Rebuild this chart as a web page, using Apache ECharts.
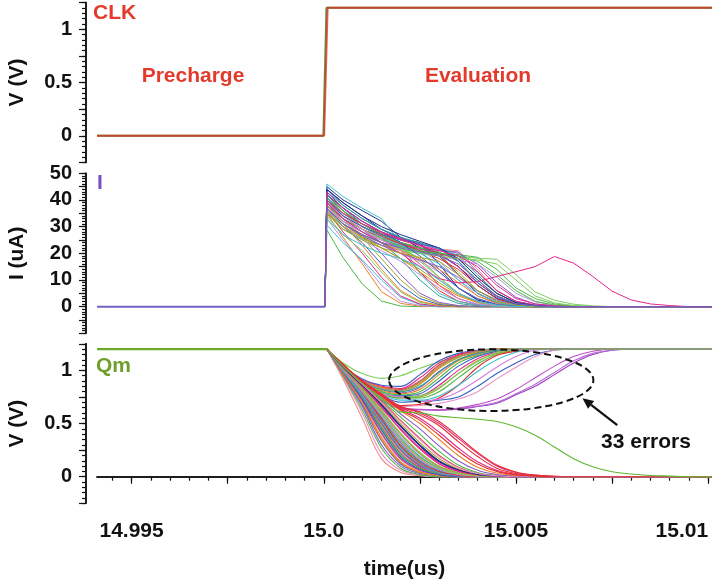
<!DOCTYPE html>
<html>
<head>
<meta charset="utf-8">
<script src="https://cdn.jsdelivr.net/npm/echarts@6/dist/echarts.min.js"></script>
<style>
  html, body { margin: 0; padding: 0; background: #ffffff; }
  #chart { width: 712px; height: 585px; }
</style>
</head>
<body>
<div id="chart"></div>
<script>
// ---------- axis ranges and tick labels ----------
const timeRange = [14.9941, 15.0101];          // us
const timeTickLabels = ['14.995', '15.0', '15.005', '15.01'];
const voltRange = [-0.25, 1.25];                // V
const voltTickLabels = ['0', '0.5', '1'];
const currRange = [-10, 50];                    // uA
const currTickLabels = ['0', '10', '20', '30', '40', '50'];

// ---------- CLK (two overlapping traces) ----------
const clkTimeA = [14.9941, 14.99999, 15.00007, 15.0101];
const clkTimeB = [14.9941, 15.00001, 15.0001, 15.0101];
const clkVolt = [0, 0, 1.2, 1.2];

// ---------- evaluation current, uA ----------
const iRise = 15.00003;   // foot of the current edge
const iTime = [15.00008, 15.0005, 15.001, 15.0015, 15.002, 15.0025, 15.003, 15.0035,
               15.004, 15.0045, 15.005, 15.0055, 15.006, 15.0065, 15.007, 15.0075,
               15.008, 15.0085, 15.009, 15.0095];
const iCurves = [
  [28.8, 18.4, 8.5, 2.1, 0.2, 0],
  [35, 26, 16, 5.6, 1.2, 0.2, 0],
  [33, 25, 17, 8, 2, 0.4, 0],
  [30.6, 24, 17.5, 10, 3.5, 0.8, 0],
  [36, 28, 20, 11, 4, 1, 0.2, 0],
  [34, 27, 21, 13, 5.5, 1.6, 0.4, 0],
  [38, 31, 23, 14, 6, 2, 0.5, 0],
  [37, 30, 24, 16, 8, 3, 0.8, 0.2, 0],
  [40, 33, 26, 18, 10, 4, 1.2, 0.3, 0],
  [39, 32, 27, 20, 12, 5, 1.6, 0.4, 0],
  [41, 34, 29, 24, 18, 10, 4, 1.2, 0.3, 0],
  [42, 36, 30, 26, 21, 13, 6, 2, 0.5, 0],
  [40, 34, 29, 25, 22, 16, 8, 3, 0.8, 0.2, 0],
  [38, 32, 28, 24, 22, 18, 11, 5, 1.5, 0.4, 0],
  [43, 37, 31, 27, 24, 21, 14, 7, 2.5, 0.7, 0],
  [39, 33, 28, 25, 23, 21, 17, 10, 4, 1.2, 0.3, 0],
  [41, 35, 30, 26, 24, 22, 19, 13, 6, 2, 0.5, 0],
  [37, 31, 27, 24, 22.5, 21, 19.5, 15, 8, 3, 0.8, 0.2, 0],
  [40, 34, 29, 26, 24, 22.5, 21.5, 21, 14, 6, 2, 0.5, 0],
  [36, 30, 26, 23, 21, 20, 19.5, 19, 18.1, 17.8, 12, 5.5, 2.4, 0.9, 0.3, 0],
  [39, 33, 28, 25, 23, 22, 21, 20.5, 13, 6, 2, 0.6, 0],
  [35, 29, 25.5, 23, 21.5, 20.5, 20, 19.5, 18.5, 14, 7, 3, 1, 0.3, 0],
  [45, 40, 36, 32, 26, 22, 20, 15, 8, 3, 0.8, 0],
  [46, 41.3, 36.9, 33, 23.8, 12.5, 5, 1.9, 0.6, 0],
  [44, 39, 34, 29, 25.5, 24, 16, 7, 2.5, 0.7, 0],
  [41, 35, 31, 27.5, 25, 23, 20, 12, 5, 1.5, 0.4, 0],
  [38, 32, 27, 23, 20, 17, 13, 7, 3, 1, 0.2, 0],
  [37, 31, 26, 22, 18, 13, 8, 4, 1.5, 0.4, 0],
  [42, 36, 31, 27, 24, 22, 20, 18, 11, 5, 1.5, 0.4, 0],
  [36, 30, 25, 21, 17, 12, 7, 3, 1, 0.3, 0],
  [41, 36, 31, 27, 24, 22, 20.5, 17, 10, 4, 1.2, 0.3, 0],
  [44, 38, 33, 29, 26, 23, 19, 12, 5, 1.5, 0.4, 0],
  [38, 33, 29, 26, 23.5, 21.5, 20, 18, 13, 6, 2, 0.5, 0],
  [36, 31, 27, 24, 21, 18, 14, 9, 4, 1.3, 0.3, 0],
  [42, 37, 32, 28, 25.5, 23.5, 21.5, 20, 16, 9, 3.5, 1, 0.3, 0],
  [40, 35, 30, 26, 22, 17, 11, 5, 1.8, 0.5, 0],
  [39, 34, 30, 26.5, 23.5, 21, 18, 14, 8, 3, 0.8, 0.2, 0],
  [43, 38, 33, 29, 26, 24, 22, 19, 12, 5, 1.5, 0.4, 0],
  [37, 32, 28, 25, 22.5, 20.5, 19, 17.5, 16, 11, 5, 1.8, 0.5, 0],
  [35, 30, 26, 22, 18, 14, 9, 4.5, 1.8, 0.5, 0],
  [41, 35, 30, 26, 23, 20, 16, 10, 5, 1.6, 0.4, 0],
  [40, 35, 31, 28, 25.5, 23, 20, 15, 9, 4, 1.2, 0.3, 0],
  [38, 33, 29, 25.5, 22.5, 21, 20, 19, 17, 12, 6, 2, 0.6, 0],
  [44, 39, 34, 30, 27, 24.5, 22, 18, 11, 5, 1.5, 0.4, 0],
  [36, 31, 27, 24, 21.5, 20, 19, 18, 17.5, 16, 10, 4, 1.4, 0.4, 0],
  [39, 34, 29, 25, 21, 16, 10, 5, 2, 0.5, 0],
  [42, 37, 32, 28, 24, 19, 13, 7, 3, 0.8, 0.2, 0],
  [37, 31, 26.5, 23, 20, 17.5, 15, 11, 6, 2.5, 0.7, 0],
  [39, 33, 28, 24, 20, 15, 10.5, 8.9, 9.4, 11.3, 13.1, 15, 18.8, 16.3, 11.3, 5.8, 2.5, 1, 0.4, 0],
  [33, 27, 23, 20, 18, 15, 10, 5, 2, 0.6, 0],
  [35, 29, 25, 22, 20, 18.5, 17, 12, 6, 2, 0.6, 0],
  [40, 34, 30, 27, 25, 23.5, 22, 17, 9, 3.5, 1, 0.3, 0],
  [43, 37, 32, 28, 25, 23, 21, 19, 15, 8, 3, 1, 0.3, 0],
  [37, 31, 27, 24, 22, 20.5, 19, 16, 10, 4, 1.2, 0.3, 0]
];

// ---------- Qm node voltage, V ----------
const qStart = 1.2;
const qTime = [15.00008, 15.0005, 15.001, 15.0015, 15.002, 15.0025, 15.003, 15.0035,
               15.004, 15.0045, 15.005, 15.0055, 15.006, 15.0065, 15.007, 15.0075,
               15.008, 15.0085, 15.009, 15.0095];
// runs that dip and recover to 1.2 (read errors)
const qErrorCurves = [
  [1.2, 1.07, 0.97, 0.925, 0.95, 1.02, 1.08, 1.13, 1.17, 1.19, 1.2],
  [1.2, 1.04, 0.92, 0.86, 0.85, 0.96, 1.09, 1.16, 1.19, 1.2],
  [1.2, 1.03, 0.91, 0.85, 0.83, 0.93, 1.07, 1.15, 1.18, 1.2],
  [1.2, 1.03, 0.9, 0.84, 0.82, 0.9, 1.05, 1.14, 1.18, 1.2],
  [1.2, 1.03, 0.9, 0.83, 0.8, 0.87, 1.02, 1.12, 1.17, 1.19, 1.2],
  [1.2, 1.02, 0.89, 0.82, 0.79, 0.84, 0.99, 1.1, 1.16, 1.19, 1.2],
  [1.2, 1.02, 0.88, 0.81, 0.78, 0.82, 0.96, 1.09, 1.15, 1.19, 1.2],
  [1.2, 1.02, 0.88, 0.8, 0.77, 0.8, 0.93, 1.07, 1.14, 1.18, 1.2],
  [1.2, 1.02, 0.87, 0.79, 0.76, 0.78, 0.9, 1.04, 1.13, 1.18, 1.2],
  [1.2, 1.01, 0.86, 0.78, 0.75, 0.76, 0.86, 1.0, 1.11, 1.17, 1.2],
  [1.2, 1.01, 0.86, 0.78, 0.74, 0.75, 0.83, 0.97, 1.09, 1.16, 1.19, 1.2],
  [1.2, 1.02, 0.87, 0.79, 0.75, 0.76, 0.84, 0.97, 1.08, 1.17, 1.2],
  [1.2, 1.02, 0.86, 0.78, 0.74, 0.74, 0.8, 0.93, 1.06, 1.15, 1.19, 1.2],
  [1.2, 1.01, 0.85, 0.74, 0.67, 0.68, 0.74, 0.86, 1.03, 1.14, 1.18, 1.2],
  [1.2, 1.01, 0.86, 0.76, 0.7, 0.71, 0.72, 0.75, 0.85, 0.97, 1.07, 1.15, 1.19, 1.2],
  [1.2, 1.02, 0.87, 0.78, 0.75, 0.71, 0.73, 0.8, 0.91, 1.03, 1.13, 1.19, 1.2],
  [1.2, 1.0, 0.84, 0.72, 0.64, 0.63, 0.625, 0.635, 0.66, 0.69, 0.77, 0.85, 0.96, 1.07, 1.15, 1.19, 1.2],
  [1.2, 1.0, 0.84, 0.72, 0.645, 0.635, 0.63, 0.64, 0.665, 0.7, 0.78, 0.87, 0.98, 1.09, 1.16, 1.19, 1.2],
  [1.2, 1.0, 0.84, 0.72, 0.64, 0.63, 0.63, 0.645, 0.68, 0.73, 0.82, 0.93, 1.04, 1.13, 1.18, 1.2],
  [1.2, 1.01, 0.85, 0.74, 0.66, 0.67, 0.69, 0.73, 0.8, 0.92, 1.03, 1.13, 1.19, 1.2],
  [1.2, 1.02, 0.87, 0.77, 0.72, 0.72, 0.76, 0.86, 0.99, 1.1, 1.17, 1.2],
  [1.2, 1.03, 0.9, 0.84, 0.81, 0.88, 1.03, 1.13, 1.17, 1.2],
  [1.2, 1.02, 0.89, 0.82, 0.8, 0.85, 0.98, 1.1, 1.16, 1.19, 1.2],
  [1.2, 1.03, 0.9, 0.83, 0.81, 0.89, 1.04, 1.13, 1.18, 1.2]
];
// runs that discharge to 0 (correct reads)
const qFallCurves = [
  [1.2, 0.92, 0.55, 0.17, 0.04, 0.01, 0],
  [1.2, 0.94, 0.6, 0.22, 0.06, 0.015, 0],
  [1.2, 0.95, 0.63, 0.27, 0.08, 0.02, 0],
  [1.2, 0.96, 0.66, 0.3, 0.1, 0.03, 0.01, 0],
  [1.2, 0.97, 0.68, 0.34, 0.12, 0.04, 0.01, 0],
  [1.2, 0.97, 0.7, 0.37, 0.14, 0.05, 0.015, 0],
  [1.2, 0.98, 0.71, 0.4, 0.16, 0.06, 0.02, 0],
  [1.2, 0.98, 0.72, 0.42, 0.18, 0.07, 0.02, 0],
  [1.2, 0.99, 0.74, 0.45, 0.2, 0.08, 0.025, 0.01, 0],
  [1.2, 0.99, 0.75, 0.47, 0.22, 0.09, 0.03, 0.01, 0],
  [1.2, 1.0, 0.76, 0.49, 0.24, 0.1, 0.035, 0.01, 0],
  [1.2, 1.0, 0.77, 0.51, 0.26, 0.11, 0.04, 0.012, 0],
  [1.2, 1.0, 0.78, 0.53, 0.28, 0.12, 0.045, 0.015, 0],
  [1.2, 1.01, 0.79, 0.55, 0.3, 0.14, 0.05, 0.018, 0],
  [1.2, 1.01, 0.8, 0.56, 0.32, 0.15, 0.06, 0.02, 0.005, 0],
  [1.2, 1.01, 0.81, 0.58, 0.34, 0.17, 0.07, 0.025, 0.008, 0],
  [1.2, 1.02, 0.82, 0.6, 0.36, 0.19, 0.08, 0.03, 0.01, 0],
  [1.2, 1.02, 0.83, 0.61, 0.38, 0.21, 0.09, 0.035, 0.012, 0],
  [1.2, 1.02, 0.84, 0.63, 0.41, 0.23, 0.1, 0.04, 0.015, 0],
  [1.2, 1.03, 0.85, 0.65, 0.44, 0.26, 0.12, 0.05, 0.02, 0.005, 0],
  [1.2, 1.03, 0.86, 0.67, 0.47, 0.29, 0.14, 0.06, 0.02, 0.006, 0],
  [1.2, 1.03, 0.86, 0.69, 0.5, 0.32, 0.17, 0.07, 0.025, 0.008, 0],
  [1.2, 1.04, 0.87, 0.71, 0.53, 0.36, 0.2, 0.09, 0.03, 0.01, 0],
  [1.2, 1.04, 0.88, 0.72, 0.56, 0.4, 0.24, 0.11, 0.04, 0.012, 0],
  [1.2, 1.04, 0.88, 0.74, 0.59, 0.45, 0.29, 0.15, 0.06, 0.02, 0.006, 0],
  [1.2, 1.05, 0.89, 0.75, 0.62, 0.5, 0.35, 0.2, 0.09, 0.035, 0.012, 0],
  [1.2, 1.05, 0.89, 0.76, 0.64, 0.55, 0.42, 0.27, 0.14, 0.06, 0.02, 0.007, 0],
  [1.2, 1.05, 0.9, 0.77, 0.65, 0.58, 0.48, 0.33, 0.19, 0.08, 0.03, 0.01, 0],
  [1.2, 1.05, 0.9, 0.77, 0.66, 0.6, 0.5, 0.36, 0.22, 0.1, 0.04, 0.015, 0.005, 0],
  [1.2, 1.06, 0.9, 0.78, 0.66, 0.61, 0.52, 0.38, 0.23, 0.11, 0.045, 0.015, 0.005, 0],
  [1.2, 0.97, 0.69, 0.35, 0.13, 0.04, 0.01, 0],
  [1.2, 0.98, 0.72, 0.41, 0.17, 0.06, 0.02, 0],
  [1.2, 0.99, 0.73, 0.44, 0.19, 0.07, 0.02, 0],
  [1.2, 0.99, 0.75, 0.46, 0.21, 0.08, 0.03, 0.01, 0],
  [1.2, 1.0, 0.76, 0.5, 0.25, 0.1, 0.035, 0.01, 0],
  [1.2, 1.0, 0.77, 0.52, 0.27, 0.12, 0.04, 0.012, 0],
  [1.2, 1.01, 0.79, 0.54, 0.29, 0.13, 0.05, 0.015, 0],
  [1.2, 1.01, 0.8, 0.57, 0.33, 0.16, 0.065, 0.022, 0.006, 0],
  [1.2, 1.02, 0.82, 0.59, 0.35, 0.18, 0.075, 0.028, 0.009, 0],
  [1.2, 1.02, 0.83, 0.62, 0.4, 0.22, 0.095, 0.037, 0.013, 0],
  [1.2, 1.03, 0.85, 0.66, 0.45, 0.27, 0.13, 0.055, 0.02, 0.005, 0],
  [1.2, 1.03, 0.86, 0.68, 0.48, 0.3, 0.15, 0.065, 0.022, 0.007, 0],
  [1.2, 1.04, 0.87, 0.7, 0.52, 0.35, 0.19, 0.085, 0.03, 0.01, 0],
  [1.2, 1.05, 0.89, 0.76, 0.63, 0.53, 0.39, 0.24, 0.12, 0.05, 0.018, 0.006, 0],
  [1.2, 1.04, 0.88, 0.74, 0.61, 0.6, 0.57, 0.555, 0.54, 0.52, 0.47, 0.39, 0.28, 0.17, 0.094, 0.047, 0.025, 0.012, 0.006, 0]
];

// ---------- annotation anchors (data space of the Qm panel) ----------
const errorZone = { t: 15.004356, v: 0.908, dt: 0.002658, dv: 0.29 };
const errorArrow = { from: [15.007635, 0.485], to: [15.006729, 0.739] };

// ---------- styling ----------
const FONT = '"Liberation Sans", Arial, Helvetica, sans-serif';
const G1 = '#4db848', G2 = '#7ccf5f', G3 = '#3a9a3a', O = '#f08020', R = '#e4302c',
      M = '#e2268a', P = '#8a5bc8', L = '#b592e0', B = '#3560c0', N = '#1e2c88',
      C = '#3fbdd0', T = '#2aa39a', Y = '#a9a52a', S = '#f28a7e', K = '#e891c8';
const iColors = [G1, O, L, C, M, G2, O, B, Y, P, T, R, M, G1, B, L, Y, T, S, G2,
                 P, G1, N, C, N, R, K, O, G3, L,
                 G1, B, M, O, P, G2, R, T, L, Y, C, M, G1, N, G2, K, B, P,
                 M, C, Y, B, M, '#7461c4'];
const qErrorColors = [G2, B, M, R, Y, P, O, G1, B, M, Y, G2, G1, R, B, '#d77be0',
                      '#9a3fc0', '#b66ad8', '#c04fc8', K, C, O, T, '#9c9a70'];
const qFallColors = [S, K, G1, P, B, O, L, G2, C, M, Y, R, P, G1, B, O, T, L, G2, M,
                     N, Y, R, G1, P, O, M, R, M, R,
                     O, M, B, G1, P, C, R, L, G2, Y, M, N, K, R, '#5cb82e'];

function withTail(times, values) {
  const d = values.map((v, k) => [times[k], v]);
  d.push([timeRange[1], values[values.length - 1]]);
  return d;
}
function labelFrom(list) {
  return function (v) {
    for (const s of list) { if (Math.abs(Number(s) - v) < 1e-9) return s; }
    return '';
  };
}
function steps(a, b, step) {
  const out = [];
  const n = Math.round((b - a) / step);
  for (let k = 0; k <= n; k++) out.push(+(a + k * step).toFixed(6));
  return out;
}

const axisLineStyle = { lineStyle: { color: '#111', width: 1.5 } };
const tickStyle = { color: '#111', width: 1.2 };
const labelStyle = { color: '#111', fontFamily: FONT, fontWeight: 'bold', fontSize: 20 };
const nameStyle = { color: '#111', fontFamily: FONT, fontWeight: 'bold', fontSize: 21 };

const grids = [
  { left: 97, top: 2.5, width: 615, height: 160, outerBoundsMode: 'none', containLabel: false },
  { left: 97, top: 173.3, width: 615, height: 160, outerBoundsMode: 'none', containLabel: false },
  { left: 97, top: 343.8, width: 615, height: 159.5, outerBoundsMode: 'none', containLabel: false }
];

function hiddenX(gi) {
  return { type: 'value', gridIndex: gi, min: timeRange[0], max: timeRange[1], show: false };
}
function yPair(gi, range, minorStep, majorStep, labels, name, nameGap) {
  return [
    { type: 'value', gridIndex: gi, position: 'left', min: range[0], max: range[1], interval: minorStep,
      offset: 11, axisLine: axisLineStyle,
      axisTick: { show: true, length: 4, lineStyle: tickStyle },
      axisLabel: { show: false }, splitLine: { show: false } },
    { type: 'value', gridIndex: gi, position: 'left', min: range[0], max: range[1], interval: majorStep,
      offset: 11, axisLine: axisLineStyle,
      axisTick: { show: true, length: 7, lineStyle: tickStyle },
      axisLabel: Object.assign({ margin: 14, formatter: labelFrom(labels) }, labelStyle),
      splitLine: { show: false },
      name: name, nameLocation: 'middle', nameGap: nameGap, nameTextStyle: nameStyle }
  ];
}

const xAxes = [
  hiddenX(0), hiddenX(1),
  { type: 'value', gridIndex: 2, position: 'bottom', min: timeRange[0], max: timeRange[1], offset: 6,
    axisLine: axisLineStyle,
    axisTick: { show: true, length: 4, lineStyle: tickStyle, customValues: steps(14.9945, 15.01, 0.0005) },
    axisLabel: { show: false }, splitLine: { show: false } },
  { type: 'value', gridIndex: 2, position: 'bottom', min: timeRange[0], max: timeRange[1], offset: 6,
    axisLine: axisLineStyle,
    axisTick: { show: true, length: 7, lineStyle: tickStyle, customValues: steps(14.995, 15.01, 0.0025) },
    axisLabel: Object.assign({ margin: 11, customValues: timeTickLabels.map(Number),
      formatter: labelFrom(timeTickLabels), alignMaxLabel: 'right' }, labelStyle, { fontSize: 21 }),
    splitLine: { show: false },
    name: 'time(us)', nameLocation: 'middle', nameGap: 49, nameTextStyle: nameStyle }
];
const yAxes = [].concat(
  yPair(0, voltRange, 0.05, 0.25, voltTickLabels, 'V (V)', 58),
  yPair(1, currRange, 1, 5, currTickLabels, 'I (uA)', 58),
  yPair(2, voltRange, 0.05, 0.25, voltTickLabels, 'V (V)', 58)
);

const series = [];
function line(xi, yi, data, color, width, extra) {
  series.push(Object.assign({
    type: 'line', xAxisIndex: xi, yAxisIndex: yi, data: data, symbol: 'none',
    silent: true, animation: false, lineStyle: { color: color, width: width }
  }, extra || {}));
}

// CLK panel
line(0, 1, clkTimeA.map((t, k) => [t, clkVolt[k]]), '#5d8f3a', 2);
line(0, 1, clkTimeB.map((t, k) => [t, clkVolt[k]]), 'rgba(220,52,40,0.78)', 2);

// current panel
iCurves.forEach((vals, i) => {
  line(1, 3, [[iRise, 0]].concat(withTail(iTime, vals)), iColors[i], 1);
});
line(1, 3, [[timeRange[0], 0], [iRise, 0]], '#7461c4', 2);

// Qm panel
qErrorCurves.forEach((vals, i) => {
  line(3, 5, withTail(qTime, vals), qErrorColors[i], 1.1, { smooth: 0.35 });
});
qFallCurves.forEach((vals, i) => {
  line(3, 5, withTail(qTime, vals), qFallColors[i], 1.1, { smooth: 0.35 });
});
line(3, 5, [[timeRange[0], qStart], [qTime[0], qStart]], '#6aab2a', 2.2);

const chart = echarts.init(document.getElementById('chart'), null, { renderer: 'canvas' });
chart.setOption({
  backgroundColor: '#ffffff',
  animation: false,
  grid: grids,
  xAxis: xAxes,
  yAxis: yAxes,
  series: series
});

// annotations
const finder = { xAxisIndex: 3, yAxisIndex: 5 };
const c = chart.convertToPixel(finder, [errorZone.t, errorZone.v]);
const e = chart.convertToPixel(finder, [errorZone.t + errorZone.dt, errorZone.v + errorZone.dv]);
const a0 = chart.convertToPixel(finder, errorArrow.from);
const a1 = chart.convertToPixel(finder, errorArrow.to);
const ang = Math.atan2(a1[1] - a0[1], a1[0] - a0[0]);
const headLen = 11, headHalf = 5;
const base = [a1[0] - headLen * Math.cos(ang), a1[1] - headLen * Math.sin(ang)];
const head = [
  a1,
  [base[0] + headHalf * Math.sin(ang), base[1] - headHalf * Math.cos(ang)],
  [base[0] - headHalf * Math.sin(ang), base[1] + headHalf * Math.cos(ang)]
];

function label(text, x, y, color, align) {
  return { type: 'text', x: x, y: y, silent: true, z: 100,
    style: { text: text, fill: color, font: 'bold 21px ' + FONT,
             align: align || 'left', verticalAlign: 'middle' } };
}

chart.setOption({
  graphic: [
    { type: 'ellipse', silent: true, z: 100,
      shape: { cx: c[0], cy: c[1], rx: Math.abs(e[0] - c[0]), ry: Math.abs(e[1] - c[1]) },
      style: { fill: 'none', stroke: '#111', lineWidth: 2, lineDash: [7, 4] } },
    { type: 'line', silent: true, z: 100,
      shape: { x1: a0[0], y1: a0[1], x2: base[0], y2: base[1] },
      style: { stroke: '#111', lineWidth: 2.2 } },
    { type: 'polygon', silent: true, z: 100,
      shape: { points: head }, style: { fill: '#111' } },
    label('CLK', 93, 13, '#e23a2b'),
    label('Precharge', 193, 76, '#e23a2b', 'center'),
    label('Evaluation', 478, 76, '#e23a2b', 'center'),
    label('I', 97, 183, '#7a4fc2'),
    label('Qm', 96, 366, '#6f9e2c'),
    label('33 errors', 646, 442, '#111', 'center')
  ]
});
</script>
</body>
</html>
